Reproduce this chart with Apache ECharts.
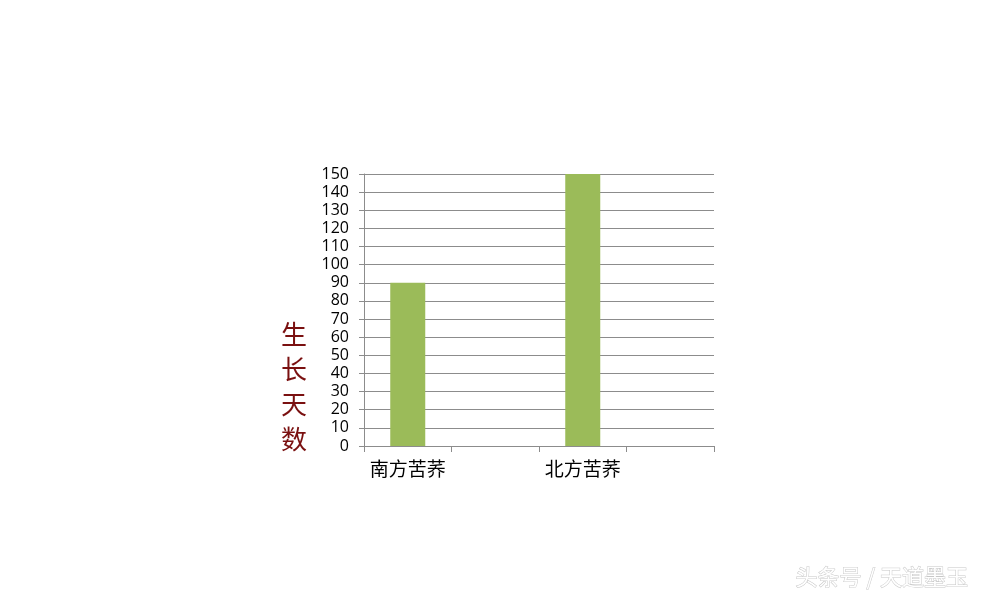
<!DOCTYPE html>
<html><head><meta charset="utf-8">
<script src="https://cdn.jsdelivr.net/npm/echarts@6/dist/echarts.min.js"></script>
<style>html,body{margin:0;padding:0;background:#fff}#c{width:990px;height:600px}</style>
</head><body><div id="c"></div>
<script>
const categories = ['南方苦荞', '', '北方苦荞', ''];
const growthDays = [90, '-', 150, '-'];
const yTitle = '生\n长\n天\n数';
const watermark = '头条号 / 天道墨玉';

const chart = echarts.init(document.getElementById('c'));
chart.setOption({
  animation: false,
  grid: {left: 364, right: 276, top: 174, bottom: 154, containLabel: false},
  xAxis: {
    type: 'category', data: categories,
    axisLine: {lineStyle: {color: '#8c8c8c'}},
    axisTick: {show: true, alignWithLabel: false, length: 6, lineStyle: {color: '#8c8c8c'}},
    axisLabel: {interval: 0, color: '#000', fontSize: 19, margin: 13, fontFamily: 'Noto Sans CJK SC'}
  },
  yAxis: {
    type: 'value', min: 0, max: 150, interval: 10,
    axisLine: {show: true, lineStyle: {color: '#8c8c8c'}},
    axisTick: {show: true, length: 5, lineStyle: {color: '#8c8c8c'}},
    splitLine: {lineStyle: {color: '#8c8c8c'}},
    axisLabel: {color: '#000', fontSize: 16, margin: 15, fontFamily: 'Open Sans'}
  },
  graphic: [
    {type: 'text', left: 281, top: 317, style: {text: yTitle, fontSize: 26, lineHeight: 35, fill: '#7a1010', fontFamily: 'Noto Sans CJK SC'}},
    {type: 'text', left: 795, top: 565, style: {text: watermark, fontSize: 22, fill: '#ffffff', stroke: '#c8c8c8', lineWidth: 1, fontFamily: 'Noto Sans CJK SC'}}
  ],
  series: [{
    type: 'bar', data: growthDays, barWidth: 35,
    itemStyle: {color: '#9bbb59'}
  }]
});
</script></body></html>
